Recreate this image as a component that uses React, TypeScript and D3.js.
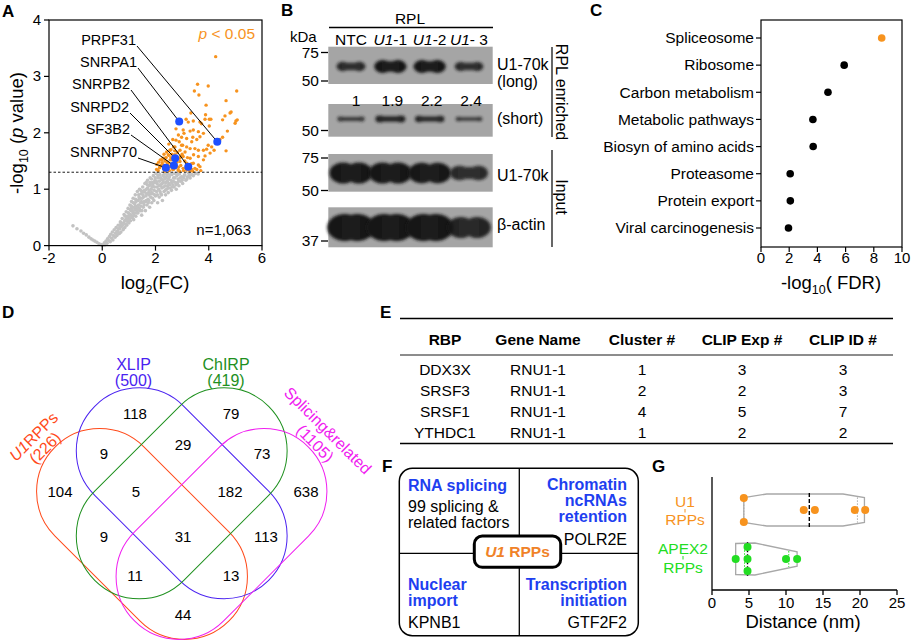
import React from "react";
import * as d3 from "d3";

const FONT = "'Liberation Sans', Arial, Helvetica, sans-serif";

// ---------------- Panel A: volcano ----------------
const grayPoints: [number, number][] = [
  [-1.1,0.35],[-0.95,0.3],[-0.8,0.26],[-0.7,0.22],[-0.6,0.19],[-0.5,0.15],[-0.42,0.12],[-0.35,0.1],[-0.28,0.08],[-0.2,0.06],[-0.12,0.03],[-0.05,0.02],
  [0,0],[0.04,0.02],[0.08,0.05],[0.1,0.01],[0.14,0.08],[0.18,0.04],[0.2,0.12],[0.24,0.09],[0.27,0.16],[0.3,0.07],[0.32,0.2],[0.35,0.13],[0.38,0.24],[0.4,0.1],[0.42,0.18],[0.45,0.28],[0.48,0.15],[0.5,0.22],
  [0.52,0.32],[0.55,0.18],[0.58,0.26],[0.6,0.36],[0.62,0.21],[0.65,0.3],[0.68,0.42],[0.7,0.24],[0.72,0.34],[0.75,0.48],[0.78,0.28],[0.8,0.4],[0.82,0.55],[0.85,0.32],[0.88,0.46],[0.9,0.6],[0.92,0.36],[0.95,0.5],[0.97,0.66],[1.0,0.4],
  [1.02,0.56],[1.04,0.72],[1.06,0.44],[1.08,0.62],[1.1,0.78],[1.12,0.5],[1.14,0.68],[1.16,0.84],[1.18,0.46],[1.2,0.58],[1.22,0.74],[1.24,0.9],[1.26,0.52],[1.28,0.66],[1.3,0.8],[1.32,0.96],[1.34,0.58],[1.36,0.72],[1.38,0.86],[1.4,1.0],[1.42,0.62],[1.44,0.76],[1.46,0.92],[1.48,0.54],[1.5,0.84],
  [1.52,1.04],[1.54,0.68],[1.56,0.96],[1.58,0.78],[1.6,1.1],[1.62,0.62],[1.64,0.88],[1.66,1.0],[1.68,0.72],[1.7,1.16],[1.72,0.82],[1.74,0.94],[1.76,1.06],[1.78,0.68],[1.8,1.2],[1.82,0.86],[1.84,1.0],[1.86,0.76],[1.88,1.12],[1.9,0.92],[1.92,1.24],[1.94,0.8],[1.96,1.04],[1.98,1.16],[2.0,0.88],
  [2.02,1.28],[2.04,0.96],[2.06,1.1],[2.08,0.76],[2.1,1.2],[2.12,1.0],[2.14,0.86],[2.16,1.26],[2.18,1.08],[2.2,0.92],[2.22,1.18],[2.24,1.02],[2.26,0.8],[2.28,1.24],[2.3,1.12],[2.32,0.96],[2.34,1.28],[2.36,1.06],[2.38,0.9],[2.4,1.2],[2.42,1.0],[2.44,1.14],[2.46,1.27],[2.48,0.94],[2.5,1.1],
  [2.52,1.22],[2.55,1.02],[2.58,1.16],[2.6,0.98],[2.62,1.26],[2.65,1.08],[2.68,1.2],[2.7,1.04],[2.72,1.28],[2.75,1.12],[2.78,1.0],[2.8,1.24],[2.82,1.1],[2.85,1.18],[2.88,1.06],[2.9,1.27],[2.95,1.14],[2.98,1.22],
  [3.02,1.1],[3.06,1.2],[3.1,1.26],[3.14,1.16],[3.2,1.22],[3.25,1.28],[3.3,1.2],[3.36,1.26],[3.42,1.24],[3.5,1.28],[3.6,1.27],
  [0.86,0.52],[0.94,0.44],[1.05,0.64],[1.15,0.58],[1.25,0.7],[1.35,0.8],[1.45,0.7],[1.55,0.86],[1.65,0.8],[1.75,0.9],[1.85,0.94],[1.95,0.98],[2.05,1.04],[2.15,1.14],[2.25,1.1],[2.35,1.18],[2.45,1.06],[1.3,0.62],[1.6,0.95],[1.9,1.08],[2.2,1.06],[1.1,0.66],[1.4,0.84],[1.7,1.02],[2.0,1.12],[0.7,0.38],[1.0,0.52],[1.2,0.68],[1.5,0.96],[1.8,1.08],
  [0.55,0.25],[0.6,0.3],[0.65,0.22],[0.68,0.33],[0.72,0.4],[0.76,0.36],[0.8,0.3],[0.84,0.44],[0.88,0.38],[0.92,0.52],[0.96,0.42],[0.98,0.58],[1.03,0.48],[1.07,0.54],[1.09,0.7],[1.13,0.62],[1.17,0.76],[1.19,0.54],[1.23,0.64],[1.27,0.78],
  [1.29,0.58],[1.33,0.68],[1.37,0.9],[1.39,0.66],[1.43,0.84],[1.47,0.78],[1.49,0.62],[1.53,0.9],[1.57,0.72],[1.59,0.98],[1.63,0.78],[1.67,0.92],[1.69,1.08],[1.73,0.76],[1.77,0.98],[1.79,1.12],[1.83,0.92],[1.87,1.04],[1.89,0.84],[1.93,1.12],
  [1.97,0.9],[1.99,1.2],[2.03,1.14],[2.07,0.9],[2.09,1.24],[2.13,1.06],[2.17,0.96],[2.19,1.2],[2.23,0.9],[2.27,1.16],[2.31,1.04],[2.33,1.22],[2.37,0.98],[2.39,1.12],[2.43,1.24],[2.47,1.02],[2.49,1.18],[2.53,1.08],[2.57,1.26],[2.61,1.12],
  [2.63,1.04],[2.67,1.14],[2.73,1.2],[2.77,1.08],[2.83,1.26],[2.87,1.14],[2.93,1.2],[3.0,1.16],[3.08,1.24],[3.18,1.18],[3.28,1.24],[1.75,0.8],[1.55,0.76],[1.35,0.64],[1.15,0.52],[0.95,0.46],[1.25,0.82],[1.45,0.98],[1.65,1.12],[1.85,1.18]
];

const orangePoints: [number, number][] = [
  [4.26,3.35],[3.58,2.86],[3.98,2.83],[3.46,2.74],[5.05,2.74],[3.63,2.67],[4.65,2.57],[3.9,2.49],[4.84,2.37],[4.8,2.35],
  [3.33,2.35],[3.88,2.32],[4.61,2.3],[3.86,2.24],[4.02,2.24],[4.08,2.24],[4.52,2.23],[5.02,2.21],[5.07,2.23],[4.99,2.17],
  [3.15,2.24],[3.23,2.19],[3.42,2.21],[3.67,2.19],[3.73,2.16],[4.02,2.12],[4.7,2.03],[4.52,1.92],[4.42,1.88],[3.04,2.05],
  [2.77,2.07],[3.07,1.99],[3.3,2.03],[3.42,2.05],[3.61,2.02],[3.8,1.99],[2.86,1.96],[2.98,1.92],[3.17,1.9],[3.4,1.92],
  [3.55,1.88],[3.67,1.93],[3.98,1.78],[4.11,1.75],[4.2,1.69],[4.65,1.68],[3.92,1.71],[4.05,1.64],[3.86,1.59],[3.36,1.84],
  [2.89,1.84],[3.02,1.78],[3.17,1.75],[3.3,1.72],[3.48,1.72],[3.61,1.69],[2.77,1.87],[2.73,1.75],[2.92,1.69],[3.11,1.66],
  [3.43,1.61],[3.61,1.58],[3.8,1.52],[3.3,1.55],[3.04,1.58],[2.54,1.69],[2.48,1.61],[2.36,1.55],[2.23,1.52],[2.42,1.49],
  [2.61,1.52],[2.92,1.49],[3.17,1.46],[3.42,1.46],[3.61,1.43],[2.29,1.43],[2.17,1.4],[2.54,1.4],[2.86,1.39],[3.04,1.37],
  [3.48,1.37],[3.67,1.4],[2.04,1.35],[2.36,1.34],[2.67,1.35],[3.17,1.34],[3.36,1.35],[2.73,1.61],[2.48,1.46],[3.8,1.69],
  [2.1,1.33],[2.15,1.38],[2.2,1.42],[2.25,1.47],[2.3,1.36],[2.35,1.5],[2.4,1.56],[2.45,1.45],[2.5,1.6],[2.52,1.33],
  [2.55,1.52],[2.6,1.44],[2.62,1.62],[2.65,1.35],[2.7,1.58],[2.75,1.38],[2.8,1.48],[2.82,1.65],[2.85,1.34],[2.9,1.55],
  [2.95,1.42],[3.0,1.62],[3.05,1.33],[3.1,1.5],[3.15,1.38],[3.2,1.56],[3.28,1.33],[3.35,1.45],[2.28,1.55],[2.42,1.66],
  [2.58,1.7],[2.68,1.75],[2.5,1.8],[2.65,1.88],[2.55,1.4],[2.35,1.32],[2.9,1.32],[3.4,1.32],[3.55,1.35],[3.7,1.33],
  [2.05,1.44],[2.18,1.52],[2.72,1.68],[2.98,1.78],[2.12,1.48],[2.32,1.62],[2.46,1.38],[2.58,1.56],[2.78,1.42],[2.96,1.58]
];

const hitGenes = ["PRPF31", "SNRPA1", "SNRPB2", "SNRPD2", "SF3B2", "SNRNP70"];
const hitLog2FC = [4.32, 2.89, 3.23, 2.74, 2.69, 2.39];
const hitNegLogP = [1.84, 2.2, 1.4, 1.55, 1.42, 1.38];
const volcanoXTicks = [-2, 0, 2, 4, 6];
const volcanoYTicks = [0, 1, 2, 3, 4];
const pCutoff = 0.05;
const nProteins = "n=1,063";

// ---------------- Panel B: western blot ----------------
const laneItalic = ["", "U1", "U1", "U1"];
const laneSuffix = ["NTC", "-1", "-2", "- 3"];
const laneQuant = ["1", "1.9", "2.2", "2.4"];
const longSignal = [0.72, 1.0, 1.0, 0.7];
const shortSignal = [0.6, 0.85, 0.8, 0.55];
const inputSignal = [1.0, 1.0, 0.98, 0.7];
const actinSignal = [1.0, 1.0, 1.0, 0.78];

// ---------------- Panel C: KEGG ----------------
const pathways = ["Spliceosome", "Ribosome", "Carbon metabolism", "Metabolic pathways", "Biosyn of amino acids", "Proteasome", "Protein export", "Viral carcinogenesis"];
const pathwayNegLogFDR = [8.56, 5.9, 4.75, 3.68, 3.7, 2.07, 2.08, 1.95];
const fdrTicks = [0, 2, 4, 6, 8, 10];

// ---------------- Panel D: Venn ----------------
const vennNames = ["U1RPPs", "XLIP", "ChIRP", "Splicing&related"];
const vennSizes = [226, 500, 419, 1105];
const vennRegionCounts = [118, 79, 9, 29, 73, 104, 5, 182, 638, 9, 31, 113, 11, 13, 44];

// ---------------- Panel E: table ----------------
const tableHeader = ["RBP", "Gene Name", "Cluster #", "CLIP Exp #", "CLIP ID #"];
const rbpNames = ["DDX3X", "SRSF3", "SRSF1", "YTHDC1"];
const geneNames = ["RNU1-1", "RNU1-1", "RNU1-1", "RNU1-1"];
const clusterNums = [1, 2, 4, 1];
const clipExpNums = [3, 2, 5, 2];
const clipIdNums = [3, 3, 7, 2];

// ---------------- Panel G: distances ----------------
const groupNames = ["U1 RPPs", "APEX2 RPPs"];
const u1Distances = [4.3, 4.3, 12.4, 13.9, 19.3, 20.7];
const apexDistances = [3.2, 4.8, 4.8, 4.8, 10.0, 11.5];
const u1Slots = [-1, 1, 0, 0, 0, 0];
const apexSlots = [0, -1, 0, 1, 0, 0];
const u1ViolinDist = [4.3, 7.4, 17.7, 20.6];
const u1ViolinDensity = [0.78, 1.0, 1.0, 0.78];
const apexViolinDist = [3.2, 5.8, 11.5];
const apexViolinDensity = [0.97, 1.0, 0.45];
const distTicks = [0, 5, 10, 15, 20, 25];

const ORANGE = "#F7931E";
const BLUE_PT = "#1E4FFF";

function prismQuartile(vals: number[], p: number) {
  const s = [...vals].sort((a, b) => a - b);
  const pos = (s.length + 1) * p;
  const lo = Math.max(1, Math.floor(pos));
  const hi = Math.min(s.length, lo + 1);
  const f = pos - lo;
  return s[lo - 1] + f * (s[hi - 1] - s[lo - 1]);
}

function Band({ cx, cy, w, h, s }: { cx: number; cy: number; w: number; h: number; s: number }) {
  const r = h / 2;
  const inner = Math.max(0, w - 2 * r);
  return (
    <g filter="url(#blotBlur)" opacity={0.55 + 0.45 * s}>
      <ellipse cx={cx - w / 2 + r * 1.2} cy={cy} rx={r * 1.3} ry={r} fill="#141414" />
      <ellipse cx={cx + w / 2 - r * 1.2} cy={cy} rx={r * 1.3} ry={r} fill="#141414" />
      <rect x={cx - inner / 2} y={cy - h * 0.4} width={inner} height={h * 0.8} fill="#1c1c1c" />
    </g>
  );
}

export default function App() {
  // ---- A scales
  const xA = d3.scaleLinear().domain([-2, 6]).range([49, 262]);
  const yA = d3.scaleLinear().domain([0, 4]).range([245.6, 20]);
  const cutY = yA(-Math.log10(pCutoff));
  const labelRight = [136, 137, 130, 129, 130, 137];
  const labelBase = [45, 67, 89, 112, 134, 157];

  // ---- B layout
  const laneX = d3.scalePoint<number>().domain([0, 1, 2, 3]).range([351, 469]);
  const blots = [
    { y0: 46.7, y1: 84, cy: 66.5, w: 31, hMax: 13, sig: longSignal },
    { y0: 104, y1: 136.7, cy: 119, w: 31, hMax: 8, sig: shortSignal },
    { y0: 154, y1: 191.7, cy: 173, w: 41, hMax: 21, sig: inputSignal },
    { y0: 207.3, y1: 247.3, cy: 227.5, w: 45, hMax: 27, sig: actinSignal },
  ];
  const markers = [
    { t: "75", y: 52.5 }, { t: "50", y: 81 }, { t: "50", y: 130.5 },
    { t: "75", y: 158 }, { t: "50", y: 190.5 }, { t: "37", y: 241 },
  ];

  // ---- C scales
  const xC = d3.scaleLinear().domain([0, 10]).range([761, 902]);
  const yC = d3.scalePoint<string>().domain(pathways).range([38, 228]);

  // ---- D layout
  const vennColors = ["#FF4A1A", "#4A22F0", "#1E901E", "#F020F0"];
  const vennShapes = [
    { cx: 142, cy: 534, rot: 45 },
    { cx: 181.7, cy: 493.3, rot: 45 },
    { cx: 181.7, cy: 493.3, rot: -45 },
    { cx: 221.5, cy: 534, rot: -45 },
  ];
  const stH = 60, stR = 63;
  const regionPos = [
    [135, 414], [231, 414], [104, 454], [183, 445], [262, 454],
    [60, 492], [136, 492], [230, 492], [306, 492],
    [104, 537], [183, 537], [266, 537],
    [135, 576], [231, 576], [183, 615],
  ];

  // ---- E layout
  const colX = [445, 538, 642, 742, 843];
  const rowBase = [375, 396, 417, 438];
  const tableRows = rbpNames.map((r, i) => [r, geneNames[i], clusterNums[i], clipExpNums[i], clipIdNums[i]]);

  // ---- G scales
  const xG = d3.scaleLinear().domain([0, 25]).range([712, 897]);
  const yG = d3.scalePoint<string>().domain(groupNames).range([510, 559]);
  const halfW = d3.scaleLinear().domain([0, 1]).range([0, 16]);
  const groups = [
    { name: groupNames[0], vals: u1Distances, slots: u1Slots, vd: u1ViolinDist, vw: u1ViolinDensity, color: ORANGE, qColor: "#AAAAAA" },
    { name: groupNames[1], vals: apexDistances, slots: apexSlots, vd: apexViolinDist, vw: apexViolinDensity, color: "#22DD22", qColor: "#22DD22" },
  ];

  const textBase = { fontFamily: FONT, fill: "#000" } as const;

  return (
    <svg width={912} height={642} style={{ position: "absolute", left: 0, top: 0, background: "#fff" }} fontFamily={FONT}>
      <defs>
        <filter id="blotBlur" x="-30%" y="-60%" width="160%" height="220%">
          <feGaussianBlur stdDeviation="1.8" />
        </filter>
      </defs>
      <rect width={912} height={642} fill="#fff" />

      {/* ================= Panel A ================= */}
      <text x={2} y={17} fontSize={17} fontWeight="bold" {...textBase}>A</text>
      <g>
        {grayPoints.map((d, i) => (
          <circle key={"g" + i} cx={xA(d[0])} cy={yA(d[1])} r={1.8} fill="#C2C2C2" />
        ))}
        {orangePoints.map((d, i) => (
          <circle key={"o" + i} cx={xA(d[0])} cy={yA(d[1])} r={1.7} fill={ORANGE} />
        ))}
        <line x1={xA(-2)} x2={xA(6)} y1={cutY} y2={cutY} stroke="#000" strokeWidth={0.9} strokeDasharray="2.5,2" />
        {hitGenes.map((g, i) => (
          <g key={g}>
            <line x1={labelRight[i] + 1} y1={labelBase[i] + 1} x2={xA(hitLog2FC[i])} y2={yA(hitNegLogP[i])} stroke="#000" strokeWidth={1} />
            <text x={labelRight[i]} y={labelBase[i]} fontSize={14.5} textAnchor="end" {...textBase}>{g}</text>
          </g>
        ))}
        {hitGenes.map((g, i) => (
          <circle key={"b" + g} cx={xA(hitLog2FC[i])} cy={yA(hitNegLogP[i])} r={4} fill={BLUE_PT} />
        ))}
        <rect x={49} y={20} width={213} height={225.6} fill="none" stroke="#000" strokeWidth={1.2} />
        {volcanoYTicks.map((t) => (
          <g key={"ya" + t}>
            <line x1={44} x2={49} y1={yA(t)} y2={yA(t)} stroke="#000" strokeWidth={1.2} />
            <text x={41} y={yA(t) + 5} fontSize={15} textAnchor="end" {...textBase}>{t}</text>
          </g>
        ))}
        {volcanoXTicks.map((t) => (
          <g key={"xa" + t}>
            <line x1={xA(t)} x2={xA(t)} y1={245.6} y2={250.6} stroke="#000" strokeWidth={1.2} />
            <text x={xA(t)} y={262.5} fontSize={15} textAnchor="middle" {...textBase}>{t < 0 ? "-" + Math.abs(t) : t}</text>
          </g>
        ))}
        <text x={155} y={289} fontSize={18.5} textAnchor="middle" {...textBase}>
          log<tspan fontSize={12.5} dy={5}>2</tspan><tspan dy={-5}>(FC)</tspan>
        </text>
        <text transform="translate(23,133) rotate(-90)" fontSize={18.5} textAnchor="middle" {...textBase}>
          -log<tspan fontSize={12.5} dy={5}>10</tspan><tspan dy={-5}> (</tspan><tspan fontStyle="italic">p</tspan> value)
        </text>
        <text x={255} y={39} fontSize={15.5} textAnchor="end" fill={ORANGE} fontFamily={FONT}>
          <tspan fontStyle="italic">p</tspan> &lt; {pCutoff.toFixed(2)}
        </text>
        <text x={251} y={235} fontSize={15} textAnchor="end" {...textBase}>{nProteins}</text>
      </g>

      {/* ================= Panel B ================= */}
      <text x={281} y={16} fontSize={17} fontWeight="bold" {...textBase}>B</text>
      <text x={410} y={24} fontSize={15.5} textAnchor="middle" {...textBase}>RPL</text>
      <line x1={329} x2={493} y1={27.5} y2={27.5} stroke="#000" strokeWidth={1.4} />
      <text x={290} y={42} fontSize={15} {...textBase}>kDa</text>
      {laneSuffix.map((s, i) => (
        <text key={"lane" + i} x={laneX(i)} y={45} fontSize={15.5} textAnchor="middle" {...textBase}>
          {laneItalic[i] ? <tspan fontStyle="italic">{laneItalic[i]}</tspan> : null}{s}
        </text>
      ))}
      {blots.map((b, bi) => (
        <g key={"blot" + bi}>
          <rect x={328.3} y={b.y0} width={164.4} height={b.y1 - b.y0} fill="#A5A5A5" />
          {b.sig.map((s, i) => (
            <Band key={i} cx={laneX(i)!} cy={b.cy} w={b.w * (0.65 + 0.35 * s)} h={b.hMax * s} s={s} />
          ))}
        </g>
      ))}
      {laneQuant.map((q, i) => (
        <text key={"q" + i} x={laneX(i)! + (i === 0 ? 5 : 2)} y={106} fontSize={15.5} textAnchor="middle" {...textBase}>{q}</text>
      ))}
      {markers.map((m, i) => (
        <g key={"mk" + i}>
          <line x1={321} x2={328} y1={m.y} y2={m.y} stroke="#000" strokeWidth={1.3} />
          <text x={319} y={m.y + 5.2} fontSize={15.5} textAnchor="end" {...textBase}>{m.t}</text>
        </g>
      ))}
      <text x={497} y={70} fontSize={16} {...textBase}>U1-70k</text>
      <text x={497} y={87} fontSize={16} {...textBase}>(long)</text>
      <text x={497} y={124} fontSize={16} {...textBase}>(short)</text>
      <text x={497} y={181} fontSize={16} {...textBase}>U1-70k</text>
      <text x={497} y={230} fontSize={16} {...textBase}>β-actin</text>
      <line x1={552} x2={552} y1={47} y2={137} stroke="#000" strokeWidth={1.2} />
      <line x1={552} x2={552} y1={150} y2={247} stroke="#000" strokeWidth={1.2} />
      <text transform="translate(556,92) rotate(90)" fontSize={16} textAnchor="middle" {...textBase}>RPL enriched</text>
      <text transform="translate(556,197) rotate(90)" fontSize={16} textAnchor="middle" {...textBase}>Input</text>

      {/* ================= Panel C ================= */}
      <text x={590} y={16} fontSize={17} fontWeight="bold" {...textBase}>C</text>
      <rect x={761} y={20} width={141} height={227} fill="none" stroke="#000" strokeWidth={1.2} />
      {pathways.map((p, i) => (
        <g key={p}>
          <line x1={756} x2={761} y1={yC(p)} y2={yC(p)} stroke="#000" strokeWidth={1.2} />
          <text x={754} y={yC(p)! + 5.3} fontSize={15.5} textAnchor="end" {...textBase}>{p}</text>
          <circle cx={xC(pathwayNegLogFDR[i])} cy={yC(p)} r={3.8} fill={i === 0 ? ORANGE : "#000"} />
        </g>
      ))}
      {fdrTicks.map((t) => (
        <g key={"xc" + t}>
          <line x1={xC(t)} x2={xC(t)} y1={247} y2={252} stroke="#000" strokeWidth={1.2} />
          <text x={xC(t)} y={262.5} fontSize={15} textAnchor="middle" {...textBase}>{t}</text>
        </g>
      ))}
      <text x={831} y={289} fontSize={18.5} textAnchor="middle" {...textBase}>
        -log<tspan fontSize={12.5} dy={5}>10</tspan><tspan dy={-5}>( FDR)</tspan>
      </text>

      {/* ================= Panel D ================= */}
      <text x={2} y={318} fontSize={17} fontWeight="bold" {...textBase}>D</text>
      {vennShapes.map((s, i) => (
        <rect
          key={"vs" + i}
          x={-(stH + stR)}
          y={-stR}
          width={2 * (stH + stR)}
          height={2 * stR}
          rx={stR}
          ry={stR}
          transform={`translate(${s.cx},${s.cy}) rotate(${s.rot})`}
          fill="none"
          stroke={vennColors[i]}
          strokeWidth={1}
        />
      ))}
      {vennRegionCounts.map((c, i) => (
        <text key={"vc" + i} x={regionPos[i][0]} y={regionPos[i][1] + 5.3} fontSize={15} textAnchor="middle" {...textBase}>{c}</text>
      ))}
      <text x={133.5} y={370} fontSize={16} textAnchor="middle" fill={vennColors[1]} fontFamily={FONT}>{vennNames[1]}</text>
      <text x={133.5} y={386} fontSize={16} textAnchor="middle" fill={vennColors[1]} fontFamily={FONT}>({vennSizes[1]})</text>
      <text x={226} y={370} fontSize={16} textAnchor="middle" fill={vennColors[2]} fontFamily={FONT}>{vennNames[2]}</text>
      <text x={226} y={386} fontSize={16} textAnchor="middle" fill={vennColors[2]} fontFamily={FONT}>({vennSizes[2]})</text>
      <g transform="translate(39,442) rotate(-45)">
        <text x={0} y={-2} fontSize={16} textAnchor="middle" fill={vennColors[0]} fontFamily={FONT}>
          <tspan fontStyle="italic">{vennNames[0].slice(0, 2)}</tspan>{vennNames[0].slice(2)}
        </text>
        <text x={0} y={14} fontSize={16} textAnchor="middle" fill={vennColors[0]} fontFamily={FONT}>({vennSizes[0]})</text>
      </g>
      <g transform="translate(321.5,437) rotate(45)">
        <text x={0} y={-3.5} fontSize={16} textAnchor="middle" fill={vennColors[3]} fontFamily={FONT}>{vennNames[3]}</text>
        <text x={0} y={14.5} fontSize={16} textAnchor="middle" fill={vennColors[3]} fontFamily={FONT}>({vennSizes[3]})</text>
      </g>

      {/* ================= Panel E ================= */}
      <text x={380} y={318} fontSize={17} fontWeight="bold" {...textBase}>E</text>
      <line x1={400} x2={893} y1={318.5} y2={318.5} stroke="#000" strokeWidth={1.6} />
      {tableHeader.map((h, i) => (
        <text key={"th" + i} x={colX[i]} y={345} fontSize={15.5} fontWeight="bold" textAnchor="middle" {...textBase}>{h}</text>
      ))}
      <line x1={400} x2={893} y1={355} y2={355} stroke="#000" strokeWidth={0.9} />
      {tableRows.map((row, ri) => (
        <g key={"tr" + ri}>
          {row.map((c, ci) => (
            <text key={ci} x={colX[ci]} y={rowBase[ri]} fontSize={15.5} textAnchor="middle" {...textBase}>{c}</text>
          ))}
        </g>
      ))}
      <line x1={400} x2={893} y1={443.5} y2={443.5} stroke="#000" strokeWidth={1.6} />

      {/* ================= Panel F ================= */}
      <text x={382} y={472} fontSize={17} fontWeight="bold" {...textBase}>F</text>
      <rect x={399.3} y={468.3} width={239} height={167.4} rx={13} ry={13} fill="none" stroke="#000" strokeWidth={1.5} />
      <line x1={519.3} x2={519.3} y1={468.3} y2={635.7} stroke="#000" strokeWidth={1.3} />
      <line x1={399.3} x2={638.3} y1={553.3} y2={553.3} stroke="#000" strokeWidth={1.3} />
      <g fontSize={16} fontFamily={FONT}>
        <text x={408} y={491} fontWeight="bold" fill="#1E3FF0">RNA splicing</text>
        <text x={408} y={512} fill="#000">99 splicing &amp;</text>
        <text x={408} y={528} fill="#000">related factors</text>
        <text x={627} y={490} fontWeight="bold" fill="#1E3FF0" textAnchor="end">Chromatin</text>
        <text x={627} y={506} fontWeight="bold" fill="#1E3FF0" textAnchor="end">ncRNAs</text>
        <text x={627} y={522} fontWeight="bold" fill="#1E3FF0" textAnchor="end">retention</text>
        <text x={627} y={545} fill="#000" textAnchor="end">POLR2E</text>
        <text x={408} y={590} fontWeight="bold" fill="#1E3FF0">Nuclear</text>
        <text x={408} y={606} fontWeight="bold" fill="#1E3FF0">import</text>
        <text x={408} y={628} fill="#000">KPNB1</text>
        <text x={627} y={590} fontWeight="bold" fill="#1E3FF0" textAnchor="end">Transcription</text>
        <text x={627} y={606} fontWeight="bold" fill="#1E3FF0" textAnchor="end">initiation</text>
        <text x={627} y={628} fill="#000" textAnchor="end">GTF2F2</text>
      </g>
      <rect x={474.3} y={536} width={86.4} height={31.3} rx={8} ry={8} fill="#fff" stroke="#000" strokeWidth={3} />
      <text x={517.5} y={557} fontSize={15.5} fontWeight="bold" textAnchor="middle" fill="#F08228" fontFamily={FONT}>
        <tspan fontStyle="italic">U1</tspan> RPPs
      </text>

      {/* ================= Panel G ================= */}
      <text x={652} y={472} fontSize={17} fontWeight="bold" {...textBase}>G</text>
      {groups.map((g) => {
        const cy = yG(g.name)!;
        const wScale = d3.scaleLinear().domain(g.vd).range(g.vw).clamp(true);
        const area = d3
          .area<number>()
          .x((d) => xG(d))
          .y0((d) => cy + halfW(wScale(d)))
          .y1((d) => cy - halfW(wScale(d)));
        const med = d3.median(g.vals)!;
        const q1 = prismQuartile(g.vals, 0.25);
        const q3 = prismQuartile(g.vals, 0.75);
        return (
          <g key={g.name}>
            <path d={area(g.vd)! + "Z"} fill="none" stroke="#A8A8A8" strokeWidth={1.3} />
            {[q1, q3].map((q, qi) => (
              <line key={qi} x1={xG(q)} x2={xG(q)} y1={cy - halfW(wScale(q)) + 1} y2={cy + halfW(wScale(q)) - 1} stroke={g.qColor} strokeWidth={1} strokeDasharray="1.5,1.5" />
            ))}
            <line x1={xG(med)} x2={xG(med)} y1={cy - halfW(wScale(med)) - 1} y2={cy + halfW(wScale(med)) + 1} stroke="#000" strokeWidth={1.4} strokeDasharray="4,2" />
            {g.vals.map((v, i) => (
              <circle key={i} cx={xG(v)} cy={cy + g.slots[i] * 12} r={4} fill={g.color} />
            ))}
          </g>
        );
      })}
      <line x1={712} x2={712} y1={477} y2={590} stroke="#000" strokeWidth={1.3} />
      <line x1={712} x2={897} y1={590} y2={590} stroke="#000" strokeWidth={1.3} />
      {distTicks.map((t) => (
        <g key={"xg" + t}>
          <line x1={xG(t)} x2={xG(t)} y1={590} y2={595} stroke="#000" strokeWidth={1.3} />
          <text x={xG(t)} y={608} fontSize={15} textAnchor="middle" {...textBase}>{t}</text>
        </g>
      ))}
      <text x={803} y={628} fontSize={18.5} textAnchor="middle" {...textBase}>Distance (nm)</text>
      {/* group labels */}
      <g fontSize={15.5} fontFamily={FONT} textAnchor="middle">
        <text x={685} y={507} fill={ORANGE}>{groupNames[0].split(" ")[0]}</text>
        <line x1={685} x2={685} y1={509} y2={512.5} stroke={ORANGE} strokeWidth={1} />
        <text x={685} y={524.5} fill={ORANGE}>{groupNames[0].split(" ")[1]}</text>
        <text x={683} y={554} fill="#22DD22">{groupNames[1].split(" ")[0]}</text>
        <line x1={683} x2={683} y1={556} y2={559.5} stroke="#22DD22" strokeWidth={1} />
        <text x={683} y={573} fill="#22DD22">{groupNames[1].split(" ")[1]}</text>
      </g>
    </svg>
  );
}
